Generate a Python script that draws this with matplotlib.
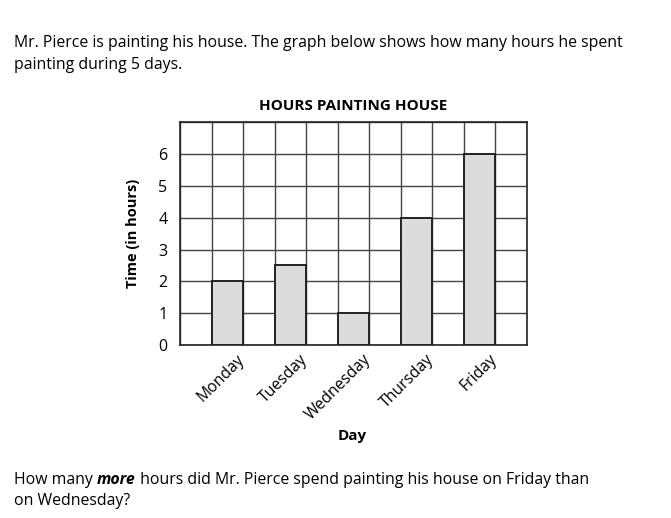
import matplotlib
matplotlib.use("Agg")
import matplotlib.pyplot as plt
import numpy as np

days = ["Monday", "Tuesday", "Wednesday", "Thursday", "Friday"]
hours = [2, 2.5, 1, 4, 6]
y_ticks = [0, 1, 2, 3, 4, 5, 6]

plt.rcParams['font.family'] = ['Open Sans', 'DejaVu Sans']

fig = plt.figure(figsize=(6.71, 5.18), dpi=100)
ax = fig.add_axes([180/671, 1-345/518, 346.7/671, 222.7/518])

x = np.arange(len(days)) * 2 + 1.5
ax.bar(x, hours, width=1.0, color="#dcdcdc", edgecolor="#222222", linewidth=1.4, zorder=3)

ax.set_xlim(0, 11)
ax.set_ylim(0, 7)
ax.set_xticks(np.arange(0, 12))
ax.set_xticklabels([])
ax.set_yticks(range(0, 8))
ax.set_yticklabels([str(v) for v in y_ticks] + [""], fontsize=11.5)
ax.tick_params(length=0, pad=9)
ax.grid(True, color="#444444", linewidth=1.0, zorder=0)
for s in ax.spines.values():
    s.set_color("#222222")
    s.set_linewidth(1.2)

for xi, d in zip(x, days):
    ax.text(xi + 0.3, -0.2, d, rotation=45, ha="right", va="top",
            rotation_mode="anchor", fontsize=11.3)

ax.set_title("HOURS PAINTING HOUSE", fontsize=11, fontweight="bold", pad=9)
ax.set_ylabel("Time (in hours)", fontsize=10.5, fontweight="bold", labelpad=13)
fig.text(352/671, 1-436/518, "Day", ha="center", va="center", fontsize=11, fontweight="bold")

FS = 11.4
fig.text(14/671, 1-43/518, "Mr. Pierce is painting his house. The graph below shows how many hours he spent",
         fontsize=FS, va="center", ha="left")
fig.text(14/671, 1-65/518, "painting during 5 days.", fontsize=FS, va="center", ha="left")

renderer = fig.canvas.get_renderer()
pieces = [("How many ", "normal", "normal"), ("more", "italic", "bold"),
          (" hours did Mr. Pierce spend painting his house on Friday than", "normal", "normal")]
xpos = 14
for txt, style, weight in pieces:
    t = fig.text(xpos/671, 1-480/518, txt, fontsize=FS, style=style, fontweight=weight,
                 va="center", ha="left")
    bb = t.get_window_extent(renderer=renderer)
    xpos += bb.width
fig.text(14/671, 1-501/518, "on Wednesday?", fontsize=FS, va="center", ha="left")

fig.savefig("out.png", dpi=100, facecolor="white")
